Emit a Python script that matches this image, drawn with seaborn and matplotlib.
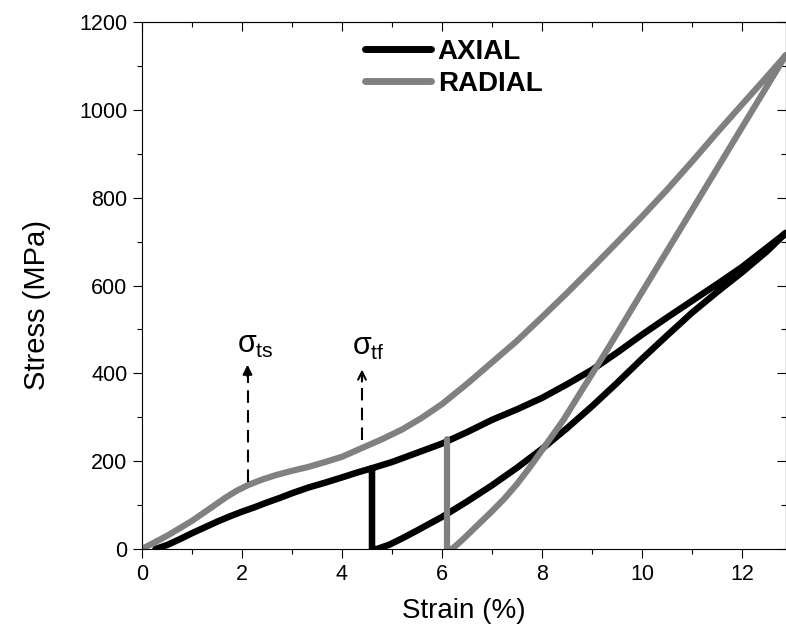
import matplotlib
matplotlib.use('Agg')
import matplotlib.pyplot as plt
import seaborn as sns
from matplotlib.ticker import MultipleLocator

# values (strain in %, stress in MPa)
axial_load_strain = [0.27, 0.5, 0.75, 1.0, 1.25, 1.5, 1.75, 2.0, 2.25, 2.5, 2.75, 3.0, 3.33, 3.66, 4.0, 4.3, 4.6,
                     5.0, 5.5, 6.0, 6.5, 7.0, 7.5, 8.0, 8.5, 9.0, 9.5, 10.0, 10.5, 11.0, 11.5, 12.0, 12.44, 12.88]
axial_load_stress = [0, 9, 22, 36, 49, 62, 74, 85, 95, 106, 116, 127, 140, 151, 163, 174, 184,
                     198, 219, 240, 266, 294, 318, 344, 375, 408, 447, 488, 527, 565, 603, 642, 681, 720]
axial_unload_strain = [12.88, 12.5, 12.0, 11.5, 11.0, 10.5, 10.0, 9.5, 9.0, 8.5, 8.0, 7.5, 7.0, 6.5, 6.0, 5.5,
                       5.2, 4.95, 4.7]
axial_unload_stress = [720, 678, 630, 585, 538, 486, 433, 378, 325, 275, 228, 185, 145, 108, 73, 42,
                       24, 10, 0]
axial_drop_strain = [4.6, 4.6]
axial_drop_stress = [0, 184]

radial_load_strain = [0, 0.5, 1.0, 1.33, 1.67, 1.9, 2.13, 2.4, 2.67, 3.0, 3.33, 3.66, 4.0, 4.4, 4.8, 5.2, 5.6,
                      6.0, 6.5, 7.0, 7.5, 8.0, 8.5, 9.0, 9.5, 10.0, 10.5, 11.0, 11.5, 12.0, 12.44, 12.88]
radial_load_stress = [0, 30, 64, 90, 117, 133, 146, 158, 168, 178, 187, 198, 210, 230, 250, 272, 299,
                      330, 376, 425, 474, 528, 583, 640, 698, 757, 818, 882, 948, 1012, 1068, 1125]
radial_unload_strain = [12.88, 12.0, 11.0, 10.0, 9.3, 8.8, 8.43, 8.0, 7.75, 7.5, 7.25, 7.0, 6.8, 6.6, 6.4, 6.2]
radial_unload_stress = [1125, 960, 772, 585, 453, 362, 294, 225, 185, 148, 115, 86, 64, 42, 20, 0]
radial_drop_strain = [6.1, 6.1]
radial_drop_stress = [0, 250]

# dashed arrows marking sigma_ts and sigma_tf
arrow_strain = [2.11, 4.4]
arrow_base = [153, 248]
arrow_tip = [426, 415]
arrow_style = ['-|>', '->']
sigma_labels = [r'$\sigma_{ts}$', r'$\sigma_{tf}$']
sigma_strain = [1.9, 4.21]
sigma_stress = [446, 442]

sns.set_style('ticks')
plt.rcParams['font.family'] = ['Liberation Sans', 'DejaVu Sans']
plt.rcParams['mathtext.fontset'] = 'custom'
plt.rcParams['mathtext.rm'] = 'Liberation Sans'
plt.rcParams['mathtext.it'] = 'Liberation Sans'
plt.rcParams['mathtext.bf'] = 'Liberation Sans:bold'
plt.rcParams['text.color'] = 'black'
plt.rcParams['axes.labelcolor'] = 'black'
plt.rcParams['xtick.color'] = 'black'
plt.rcParams['ytick.color'] = 'black'

fig = plt.figure(figsize=(7.86, 6.33), dpi=100)
ax = fig.add_axes([142 / 786, 84 / 633, 644 / 786, 527 / 633])

axial_x = axial_load_strain + axial_unload_strain + axial_drop_strain
axial_y = axial_load_stress + axial_unload_stress + axial_drop_stress
radial_x = radial_load_strain + radial_unload_strain + radial_drop_strain
radial_y = radial_load_stress + radial_unload_stress + radial_drop_stress

sns.lineplot(x=axial_x, y=axial_y, sort=False, estimator=None, color='black',
             linewidth=4.7, label='AXIAL', ax=ax)
sns.lineplot(x=radial_x, y=radial_y, sort=False, estimator=None, color='#808080',
             linewidth=4.5, label='RADIAL', ax=ax)

for x, y0, y1, st in zip(arrow_strain, arrow_base, arrow_tip, arrow_style):
    ax.plot([x, x], [y0, y1 - 25], color='black', lw=1.5, dashes=(6, 3.5))
    ax.annotate('', xy=(x, y1), xytext=(x, y1 - 40),
                arrowprops=dict(arrowstyle=st, color='black', lw=1.5, mutation_scale=14))

for lab, x, y in zip(sigma_labels, sigma_strain, sigma_stress):
    ax.text(x, y, lab, fontsize=22, va='baseline', ha='left')

ax.set_xlim(0, 12.88)
ax.set_ylim(0, 1200)
ax.xaxis.set_major_locator(MultipleLocator(2))
ax.xaxis.set_minor_locator(MultipleLocator(1))
ax.yaxis.set_major_locator(MultipleLocator(200))
ax.yaxis.set_minor_locator(MultipleLocator(100))
ax.tick_params(which='major', direction='out', length=6.5, width=0.8, labelsize=15.5, pad=4)
ax.tick_params(which='minor', direction='out', length=3.5, width=0.8)
for sp in ax.spines.values():
    sp.set_visible(True)
    sp.set_linewidth(0.8)
    sp.set_color('black')

top = ax.secondary_xaxis('top')
top.xaxis.set_major_locator(MultipleLocator(2))
top.xaxis.set_minor_locator(MultipleLocator(1))
top.tick_params(which='major', direction='in', length=6.5, width=0.8, labeltop=False)
top.tick_params(which='minor', direction='in', length=3.5, width=0.8)
right = ax.secondary_yaxis('right')
right.yaxis.set_major_locator(MultipleLocator(200))
right.yaxis.set_minor_locator(MultipleLocator(100))
right.tick_params(which='major', direction='in', length=6.5, width=0.8, labelright=False)
right.tick_params(which='minor', direction='in', length=3.5, width=0.8)

ax.set_xlabel('Strain (%)', fontsize=20, labelpad=10)
ax.set_ylabel('Stress (MPa)', fontsize=21)
ax.yaxis.set_label_coords(-0.141, 0.463)

leg = ax.legend(loc='upper left', bbox_to_anchor=(0.347, 0.968), frameon=False,
                prop={'weight': 'bold', 'size': 20}, handlelength=2.35,
                handletextpad=0.25, labelspacing=0.22, borderpad=0, borderaxespad=0)
for h in leg.get_lines():
    h.set_linewidth(5)
    h.set_solid_capstyle('round')

fig.savefig('out.png', dpi=100)
